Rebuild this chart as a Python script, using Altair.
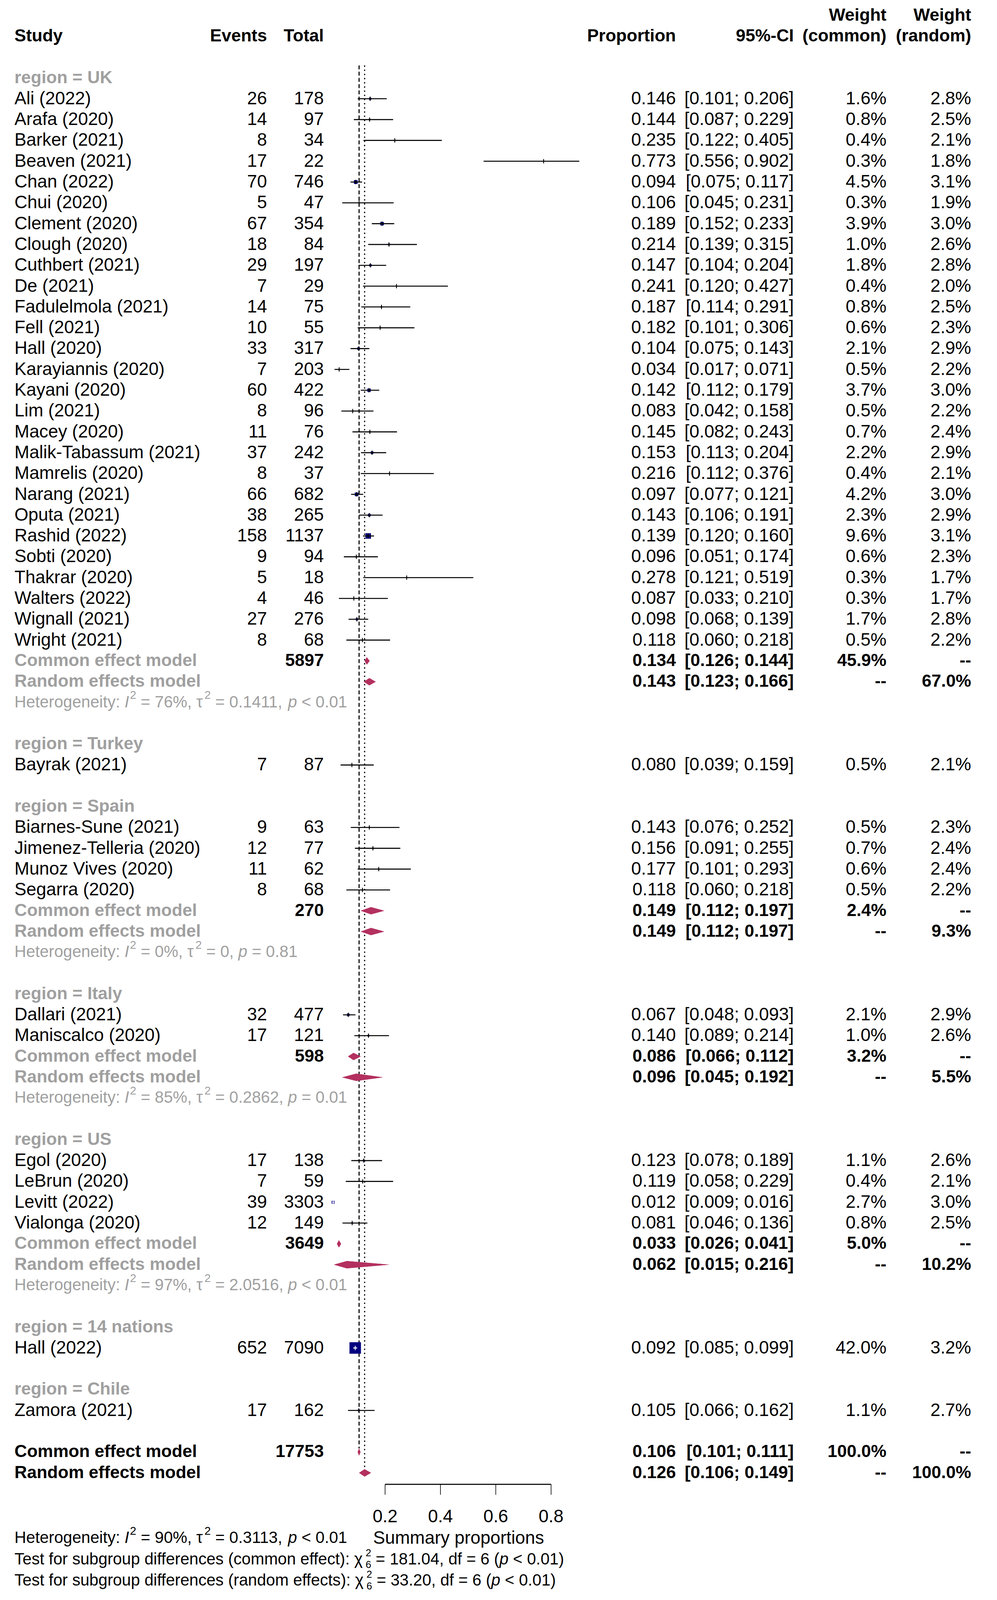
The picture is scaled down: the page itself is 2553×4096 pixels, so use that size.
import altair as alt
import pandas as pd

# ------------------------------------------------------------------ data
regions = ["UK", "Turkey", "Spain", "Italy", "US", "14 nations", "Chile"]

study_names = [
    "Ali (2022)", "Arafa (2020)", "Barker (2021)", "Beaven (2021)", "Chan (2022)",
    "Chui (2020)", "Clement (2020)", "Clough (2020)", "Cuthbert (2021)", "De (2021)",
    "Fadulelmola (2021)", "Fell (2021)", "Hall (2020)", "Karayiannis (2020)", "Kayani (2020)",
    "Lim (2021)", "Macey (2020)", "Malik-Tabassum (2021)", "Mamrelis (2020)", "Narang (2021)",
    "Oputa (2021)", "Rashid (2022)", "Sobti (2020)", "Thakrar (2020)", "Walters (2022)",
    "Wignall (2021)", "Wright (2021)",
    "Bayrak (2021)",
    "Biarnes-Sune (2021)", "Jimenez-Telleria (2020)", "Munoz Vives (2020)", "Segarra (2020)",
    "Dallari (2021)", "Maniscalco (2020)",
    "Egol (2020)", "LeBrun (2020)", "Levitt (2022)", "Vialonga (2020)",
    "Hall (2022)",
    "Zamora (2021)",
]
study_region = ["UK"] * 27 + ["Turkey"] + ["Spain"] * 4 + ["Italy"] * 2 + ["US"] * 4 + ["14 nations"] + ["Chile"]
events = [26, 14, 8, 17, 70, 5, 67, 18, 29, 7, 14, 10, 33, 7, 60, 8, 11, 37, 8, 66, 38, 158, 9, 5, 4, 27, 8,
          7, 9, 12, 11, 8, 32, 17, 17, 7, 39, 12, 652, 17]
totals = [178, 97, 34, 22, 746, 47, 354, 84, 197, 29, 75, 55, 317, 203, 422, 96, 76, 242, 37, 682, 265, 1137,
          94, 18, 46, 276, 68, 87, 63, 77, 62, 68, 477, 121, 138, 59, 3303, 149, 7090, 162]
proportion = [0.146, 0.144, 0.235, 0.773, 0.094, 0.106, 0.189, 0.214, 0.147, 0.241, 0.187, 0.182, 0.104,
              0.034, 0.142, 0.083, 0.145, 0.153, 0.216, 0.097, 0.143, 0.139, 0.096, 0.278, 0.087, 0.098,
              0.118, 0.080, 0.143, 0.156, 0.177, 0.118, 0.067, 0.140, 0.123, 0.119, 0.012, 0.081, 0.092,
              0.105]
ci_lower = [0.101, 0.087, 0.122, 0.556, 0.075, 0.045, 0.152, 0.139, 0.104, 0.120, 0.114, 0.101, 0.075,
            0.017, 0.112, 0.042, 0.082, 0.113, 0.112, 0.077, 0.106, 0.120, 0.051, 0.121, 0.033, 0.068,
            0.060, 0.039, 0.076, 0.091, 0.101, 0.060, 0.048, 0.089, 0.078, 0.058, 0.009, 0.046, 0.085,
            0.066]
ci_upper = [0.206, 0.229, 0.405, 0.902, 0.117, 0.231, 0.233, 0.315, 0.204, 0.427, 0.291, 0.306, 0.143,
            0.071, 0.179, 0.158, 0.243, 0.204, 0.376, 0.121, 0.191, 0.160, 0.174, 0.519, 0.210, 0.139,
            0.218, 0.159, 0.252, 0.255, 0.293, 0.218, 0.093, 0.214, 0.189, 0.229, 0.016, 0.136, 0.099,
            0.162]
weight_common = [1.6, 0.8, 0.4, 0.3, 4.5, 0.3, 3.9, 1.0, 1.8, 0.4, 0.8, 0.6, 2.1, 0.5, 3.7, 0.5, 0.7, 2.2,
                 0.4, 4.2, 2.3, 9.6, 0.6, 0.3, 0.3, 1.7, 0.5, 0.5, 0.5, 0.7, 0.6, 0.5, 2.1, 1.0, 1.1, 0.4,
                 2.7, 0.8, 42.0, 1.1]
weight_random = [2.8, 2.5, 2.1, 1.8, 3.1, 1.9, 3.0, 2.6, 2.8, 2.0, 2.5, 2.3, 2.9, 2.2, 3.0, 2.2, 2.4, 2.9,
                 2.1, 3.0, 2.9, 3.1, 2.3, 1.7, 1.7, 2.8, 2.2, 2.1, 2.3, 2.4, 2.4, 2.2, 2.9, 2.6, 2.6, 2.1,
                 3.0, 2.5, 3.2, 2.7]

# subgroup summaries
sub_region = ["UK", "Spain", "Italy", "US"]
sub_total = [5897, 270, 598, 3649]
sub_ce = [0.134, 0.149, 0.086, 0.033]
sub_ce_lo = [0.126, 0.112, 0.066, 0.026]
sub_ce_hi = [0.144, 0.197, 0.112, 0.041]
sub_ce_w = [45.9, 2.4, 3.2, 5.0]
sub_re = [0.143, 0.149, 0.096, 0.062]
sub_re_lo = [0.123, 0.112, 0.045, 0.015]
sub_re_hi = [0.166, 0.197, 0.192, 0.216]
sub_re_w = [67.0, 9.3, 5.5, 10.2]
sub_i2 = ["76%", "0%", "85%", "97%"]
sub_tau2 = ["0.1411", "0", "0.2862", "2.0516"]
sub_p = ["< 0.01", "= 0.81", "= 0.01", "< 0.01"]

# overall
overall_total = 17753
overall_ce = [0.106, 0.101, 0.111]
overall_re = [0.126, 0.106, 0.149]
overall_w = 100.0
overall_i2, overall_tau2, overall_p = "90%", "0.3113", "< 0.01"
test_labels = ["common effect", "random effects"]
test_chi2 = ["181.04", "33.20"]
test_df = [6, 6]
test_p = ["< 0.01", "< 0.01"]

axis_ticks = [0.2, 0.4, 0.6, 0.8]
axis_title = "Summary proportions"

# ------------------------------------------------------------------ layout / style
FONT = "Liberation Sans"
FS = 45.8      # main regular font
FB = 44.5      # main bold font
FH = 41.6      # heterogeneity / test font
GRAY = "#A0A0A0"
BLACK = "#000000"
NAVY = "#000080"
DIAMOND = "#B3305F"

X0, XS = 836.4, 708.5      # px of proportion 0, px per unit
Y0, YS = 191.5, 53.30      # px of row 0, px per row
W, H = 2537, 4080
XSC = alt.Scale(domain=[0, 1], range=[X0, X0 + XS], nice=False, zero=False)
YSC = alt.Scale(domain=[0, 72], range=[Y0, Y0 + 72 * YS], nice=False, zero=False)


def xd(px):
    return (px - X0) / XS


C_STUDY, C_EV, C_TOT, C_PROP, C_CI, C_WC, C_WR = 29.0, 675.7, 821.2, 1722.8, 2024.7, 2261.9, 2478.8

WID = {' ': 278, '!': 278, '%': 889, '(': 333, ')': 333, ',': 278, '-': 333, '.': 278, ':': 278,
       ';': 278, '<': 584, '=': 584, '>': 584, '[': 278, ']': 278, 'τ': 450, 'χ': 520}
for d in "0123456789":
    WID[d] = 556
WID.update(dict(zip("ABCDEFGHIJKLMNOPQRSTUVWXYZ",
                    [667, 667, 722, 722, 667, 611, 778, 722, 278, 500, 667, 556, 833, 722, 778, 667, 778,
                     722, 667, 611, 722, 667, 944, 667, 667, 611])))
WID.update(dict(zip("abcdefghijklmnopqrstuvwxyz",
                    [556, 556, 500, 556, 556, 278, 556, 556, 222, 222, 500, 222, 833, 556, 556, 556, 556,
                     333, 500, 278, 556, 500, 722, 500, 500, 500])))


def adv(s, size):
    return sum(WID.get(c, 556) for c in s) / 1000.0 * size


texts = []


def T(row, px, s, align="left", bold=False, italic=False, size=None, color=BLACK):
    if size is None:
        size = FB if bold else FS
    texts.append(dict(row=row, x=xd(px), text=s, align=align, bold=bold, italic=italic,
                      size=size, color=color))


def rich(row, px, segs, size, color):
    x = px
    for seg in segs:
        kind = seg[0]
        if kind in ("n", "i"):
            s = seg[1]
            lead = len(s) - len(s.lstrip(" "))
            core = s.strip(" ")
            if core:
                T(row, x + adv(" " * lead, size), core, italic=(kind == "i"), size=size, color=color)
            x += adv(s, size)
        elif kind == "sup":
            ss = size * 0.7
            T(row - 0.34, x + 0.05 * size, seg[1], size=ss, color=color)
            x += adv(seg[1], ss) + 0.05 * size
        elif kind == "supsub":
            ss = size * 0.62
            T(row - 0.31, x + 0.03 * size, seg[1], size=ss, color=color)
            T(row + 0.25, x + 0.03 * size, seg[2], size=ss, color=color)
            x += max(adv(seg[1], ss), adv(seg[2], ss)) + 0.03 * size


def het_segs(i2, tau2, p):
    return [("n", "Heterogeneity: "), ("i", "I"), ("sup", "2"), ("n", " = " + i2 + ", τ"), ("sup", "2"),
            ("n", " = " + tau2 + ", "), ("i", "p"), ("n", " " + p)]


# headers
T(-3, C_WC, "Weight", "right", True)
T(-3, C_WR, "Weight", "right", True)
T(-2, C_STUDY, "Study", "left", True)
T(-2, C_EV, "Events", "right", True)
T(-2, C_TOT, "Total", "right", True)
T(-2, C_PROP, "Proportion", "right", True)
T(-2, C_CI, "95%-CI", "right", True)
T(-2, C_WC, "(common)", "right", True)
T(-2, C_WR, "(random)", "right", True)

HD_PX = 9.3                # diamond half height, px
HD = HD_PX / YS            # in rows
TK = 5.5 / YS              # estimate tick half height in rows
SQ_MAX_AREA = 864.0

study_rows = []
diamonds = []
row = 0
for reg in regions:
    T(row, C_STUDY, "region = " + reg, "left", True, color=GRAY)
    row += 1
    for i, r in enumerate(study_region):
        if r != reg:
            continue
        T(row, C_STUDY, study_names[i])
        T(row, C_EV, str(events[i]), "right")
        T(row, C_TOT, str(totals[i]), "right")
        T(row, C_PROP, f"{proportion[i]:.3f}", "right")
        T(row, C_CI, f"[{ci_lower[i]:.3f}; {ci_upper[i]:.3f}]", "right")
        T(row, C_WC, f"{weight_common[i]:.1f}%", "right")
        T(row, C_WR, f"{weight_random[i]:.1f}%", "right")
        side = (weight_common[i] * SQ_MAX_AREA / 42.0) ** 0.5
        inside = (ci_upper[i] - ci_lower[i]) * XS < side
        study_rows.append(dict(prop=proportion[i], lo=ci_lower[i], hi=ci_upper[i], row=row,
                               wc=weight_common[i], ya=row - TK, yb=row + TK,
                               lc="white" if inside else "black"))
        row += 1
    if reg in sub_region:
        k = sub_region.index(reg)
        T(row, C_STUDY, "Common effect model", "left", True, color=GRAY)
        T(row, C_TOT, str(sub_total[k]), "right", True)
        T(row, C_PROP, f"{sub_ce[k]:.3f}", "right", True)
        T(row, C_CI, f"[{sub_ce_lo[k]:.3f}; {sub_ce_hi[k]:.3f}]", "right", True)
        T(row, C_WC, f"{sub_ce_w[k]:.1f}%", "right", True)
        T(row, C_WR, "--", "right", True)
        diamonds.append((f"ce_{reg}", sub_ce[k], sub_ce_lo[k], sub_ce_hi[k], row))
        row += 1
        T(row, C_STUDY, "Random effects model", "left", True, color=GRAY)
        T(row, C_PROP, f"{sub_re[k]:.3f}", "right", True)
        T(row, C_CI, f"[{sub_re_lo[k]:.3f}; {sub_re_hi[k]:.3f}]", "right", True)
        T(row, C_WC, "--", "right", True)
        T(row, C_WR, f"{sub_re_w[k]:.1f}%", "right", True)
        diamonds.append((f"re_{reg}", sub_re[k], sub_re_lo[k], sub_re_hi[k], row))
        row += 1
        rich(row, C_STUDY, het_segs(sub_i2[k], sub_tau2[k], sub_p[k]), FH, GRAY)
        row += 1
    row += 1

ce_row = row
T(ce_row, C_STUDY, "Common effect model", "left", True)
T(ce_row, C_TOT, str(overall_total), "right", True)
T(ce_row, C_PROP, f"{overall_ce[0]:.3f}", "right", True)
T(ce_row, C_CI, f"[{overall_ce[1]:.3f}; {overall_ce[2]:.3f}]", "right", True)
T(ce_row, C_WC, f"{overall_w:.1f}%", "right", True)
T(ce_row, C_WR, "--", "right", True)
diamonds.append(("ce_all", overall_ce[0], overall_ce[1], overall_ce[2], ce_row))
re_row = ce_row + 1
T(re_row, C_STUDY, "Random effects model", "left", True)
T(re_row, C_PROP, f"{overall_re[0]:.3f}", "right", True)
T(re_row, C_CI, f"[{overall_re[1]:.3f}; {overall_re[2]:.3f}]", "right", True)
T(re_row, C_WC, "--", "right", True)
T(re_row, C_WR, f"{overall_w:.1f}%", "right", True)
diamonds.append(("re_all", overall_re[0], overall_re[1], overall_re[2], re_row))

AX_ROW = re_row + 0.55
TICK_ROW2 = AX_ROW + 0.5
LAB_ROW = re_row + 2.1
for t in axis_ticks:
    T(LAB_ROW, X0 + XS * t, f"{t:.1f}", "center")
T(re_row + 3.15, 947.4, axis_title)
rich(re_row + 3.15, C_STUDY, het_segs(overall_i2, overall_tau2, overall_p), FH, BLACK)
for j in range(2):
    rich(re_row + 4.17 + 1.02 * j, C_STUDY,
         [("n", f"Test for subgroup differences ({test_labels[j]}): χ"), ("supsub", "2", str(test_df[j])),
          ("n", f" = {test_chi2[j]}, df = {test_df[j]} ("), ("i", "p"), ("n", f" {test_p[j]})")],
         FH, BLACK)

# ------------------------------------------------------------------ marks
st = pd.DataFrame(study_rows)
dia_v = []   # vertical-orient area: x is the path dimension, y..y2 the band
dia_h = []   # horizontal-orient area: y is the path dimension, x..x2 the band
for (did, est, lo, hi, r) in diamonds:
    dia_v.append(dict(id=did, x=lo, ya=r, yb=r))
    dia_v.append(dict(id=did, x=est, ya=r - HD, yb=r + HD))
    dia_v.append(dict(id=did, x=hi, ya=r, yb=r))
    dia_h.append(dict(id=did, y=r - HD, xa=est, xb=est))
    dia_h.append(dict(id=did, y=r, xa=lo, xb=hi))
    dia_h.append(dict(id=did, y=r + HD, xa=est, xb=est))
dia_v = pd.DataFrame(dia_v)
dia_h = pd.DataFrame(dia_h)

X = lambda f: alt.X(f, scale=XSC, axis=None)
Y = lambda f: alt.Y(f, scale=YSC, axis=None)

layers = []
refs_dash = pd.DataFrame([dict(x=overall_ce[0], ya=-0.6, yb=ce_row - HD)])
refs_dot = pd.DataFrame([dict(x=overall_re[0], ya=-0.6, yb=re_row - HD)])
layers.append(alt.Chart(refs_dash).mark_rule(color=BLACK, strokeWidth=2.8, strokeDash=[10, 6]).encode(
    x=X("x:Q"), y=Y("ya:Q"), y2="yb:Q"))
layers.append(alt.Chart(refs_dot).mark_rule(color=BLACK, strokeWidth=3, strokeDash=[3.4, 7.3]).encode(
    x=X("x:Q"), y=Y("ya:Q"), y2="yb:Q"))

layers.append(alt.Chart(st).mark_point(shape="square", filled=True, color=NAVY, opacity=1).encode(
    x=X("prop:Q"), y=Y("row:Q"),
    size=alt.Size("wc:Q", scale=alt.Scale(type="linear", domain=[0, 42], range=[0, SQ_MAX_AREA]),
                  legend=None)))
for lc in ["black", "white"]:
    sub = st[st.lc == lc]
    if len(sub):
        layers.append(alt.Chart(sub).mark_rule(color=lc, strokeWidth=2.6).encode(
            x=X("lo:Q"), x2="hi:Q", y=Y("row:Q")))
        layers.append(alt.Chart(sub).mark_rule(color=lc, strokeWidth=2.2).encode(
            x=X("prop:Q"), y=Y("ya:Q"), y2="yb:Q"))

layers.append(alt.Chart(dia_v).mark_area(color=DIAMOND, opacity=1, orient="vertical").encode(
    x=X("x:Q"), y=alt.Y("ya:Q", scale=YSC, axis=None, stack=None), y2="yb:Q",
    detail="id:N"))
layers.append(alt.Chart(dia_h).mark_area(color=DIAMOND, opacity=1, orient="horizontal").encode(
    y=Y("y:Q"), x=alt.X("xa:Q", scale=XSC, axis=None, stack=None), x2="xb:Q",
    detail="id:N"))

axis_line = pd.DataFrame([dict(x=axis_ticks[0], x2=axis_ticks[-1], y=AX_ROW)])
layers.append(alt.Chart(axis_line).mark_rule(color=BLACK, strokeWidth=2.8).encode(
    x=X("x:Q"), x2="x2:Q", y=Y("y:Q")))
ticks = pd.DataFrame([dict(x=t, ya=AX_ROW, yb=TICK_ROW2) for t in axis_ticks])
layers.append(alt.Chart(ticks).mark_rule(color=BLACK, strokeWidth=1.6).encode(
    x=X("x:Q"), y=Y("ya:Q"), y2="yb:Q"))

tdf = pd.DataFrame(texts)
for key, g in tdf.groupby(["align", "bold", "italic", "size", "color"]):
    align, bold, italic, size, color = key
    layers.append(alt.Chart(g.reset_index(drop=True)).mark_text(
        align=str(align), baseline="middle", font=FONT, fontSize=float(size),
        fontWeight="bold" if bool(bold) else "normal",
        fontStyle="italic" if bool(italic) else "normal", color=str(color)).encode(
        x=X("x:Q"), y=Y("row:Q"), text=alt.Text("text:N")))

chart = alt.layer(*layers).properties(
    width=W, height=H, padding=0, autosize=alt.AutoSizeParams(type="none")
).configure_view(stroke=None)

chart.save("out.html", embed_options={"renderer": "svg", "actions": False})
